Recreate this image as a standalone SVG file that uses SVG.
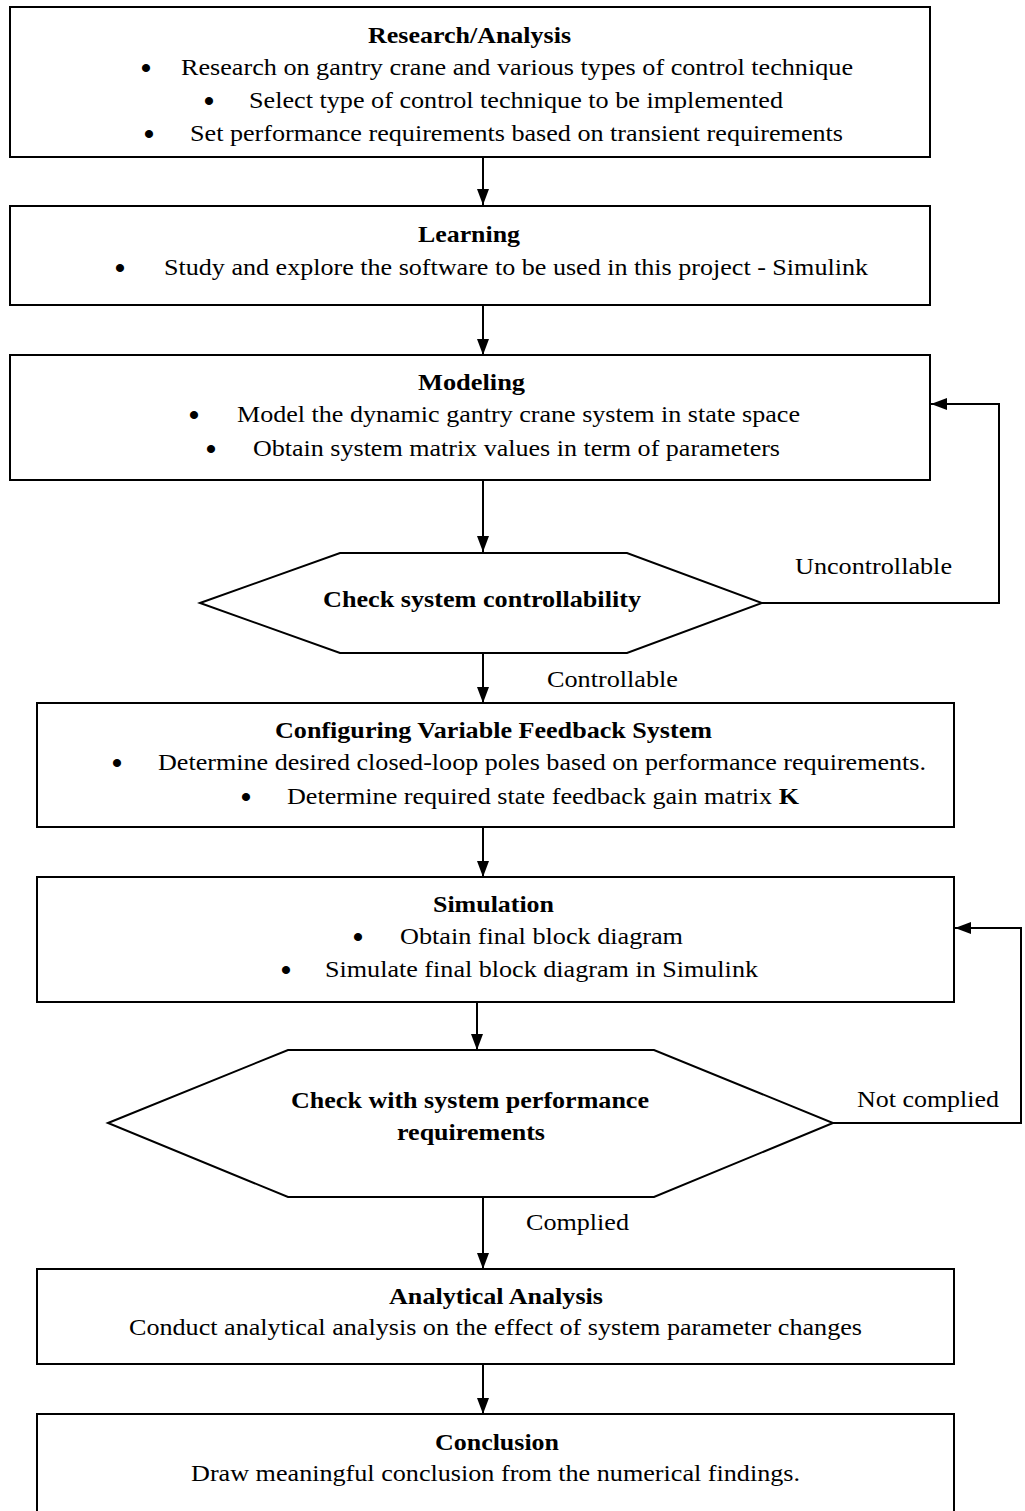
<svg xmlns="http://www.w3.org/2000/svg" width="1025" height="1511" viewBox="0 0 1025 1511">
<defs>
<marker id="ah" markerWidth="16" markerHeight="12" refX="16" refY="6" viewBox="0 0 16 12" orient="auto" markerUnits="userSpaceOnUse" >
<path d="M0,0 L16,6 L0,12 Z" fill="#000"/>
</marker>
<style>
.box{fill:#fff;stroke:#000;stroke-width:2}
.ln{fill:none;stroke:#000;stroke-width:2}
text{font-family:"Liberation Serif","Times New Roman",serif;font-size:24px;fill:#000}
.t{font-weight:bold}
.c{text-anchor:middle}
.b{text-anchor:middle;font-size:30px;font-weight:bold}
</style>
</defs>
<rect width="1025" height="1511" fill="#fff"/>
<g id="connectors">
<line class="ln" x1="483" y1="157" x2="483" y2="205" marker-end="url(#ah)"/>
<line class="ln" x1="483" y1="305" x2="483" y2="355" marker-end="url(#ah)"/>
<line class="ln" x1="483" y1="480" x2="483" y2="552" marker-end="url(#ah)"/>
<polyline class="ln" points="762,603 999,603 999,404 931,404" marker-end="url(#ah)"/>
<line class="ln" x1="483" y1="653" x2="483" y2="703" marker-end="url(#ah)"/>
<line class="ln" x1="483" y1="827" x2="483" y2="877" marker-end="url(#ah)"/>
<line class="ln" x1="477" y1="1002" x2="477" y2="1050" marker-end="url(#ah)"/>
<polyline class="ln" points="833,1123 1021,1123 1021,928 955,928" marker-end="url(#ah)"/>
<line class="ln" x1="483" y1="1197" x2="483" y2="1269" marker-end="url(#ah)"/>
<line class="ln" x1="483" y1="1364" x2="483" y2="1414" marker-end="url(#ah)"/>
<text x="795" y="574" textLength="157" lengthAdjust="spacingAndGlyphs">Uncontrollable</text>
<text x="547" y="687" textLength="131" lengthAdjust="spacingAndGlyphs">Controllable</text>
<text x="857" y="1107" textLength="142" lengthAdjust="spacingAndGlyphs">Not complied</text>
<text x="526" y="1230" textLength="103" lengthAdjust="spacingAndGlyphs">Complied</text>
</g>
<g id="research">
<rect class="box" x="10" y="7" width="920" height="150"/>
<text class="t" x="368" y="43" textLength="203" lengthAdjust="spacingAndGlyphs">Research/Analysis</text>
<text class="b" x="146" y="78">•</text>
<text x="181" y="75" textLength="672" lengthAdjust="spacingAndGlyphs">Research on gantry crane and various types of control technique</text>
<text class="b" x="209" y="111">•</text>
<text x="249" y="108" textLength="534" lengthAdjust="spacingAndGlyphs">Select type of control technique to be implemented</text>
<text class="b" x="149" y="144">•</text>
<text x="190" y="141" textLength="653" lengthAdjust="spacingAndGlyphs">Set performance requirements based on transient requirements</text>
</g>
<g id="learning">
<rect class="box" x="10" y="206" width="920" height="99"/>
<text class="t" x="418" y="242" textLength="102" lengthAdjust="spacingAndGlyphs">Learning</text>
<text class="b" x="120" y="278">•</text>
<text x="164" y="275" textLength="704" lengthAdjust="spacingAndGlyphs">Study and explore the software to be used in this project - Simulink</text>
</g>
<g id="modeling">
<rect class="box" x="10" y="355" width="920" height="125"/>
<text class="t" x="418" y="390" textLength="107" lengthAdjust="spacingAndGlyphs">Modeling</text>
<text class="b" x="194" y="425">•</text>
<text x="237" y="422" textLength="563" lengthAdjust="spacingAndGlyphs">Model the dynamic gantry crane system in state space</text>
<text class="b" x="211" y="459">•</text>
<text x="253" y="456" textLength="527" lengthAdjust="spacingAndGlyphs">Obtain system matrix values in term of parameters</text>
</g>
<g id="check-controllability">
<polygon class="box" points="200,603 340,553 627,553 762,603 627,653 340,653"/>
<text class="t" x="323" y="607" textLength="318" lengthAdjust="spacingAndGlyphs">Check system controllability</text>
</g>
<g id="configuring">
<rect class="box" x="37" y="703" width="917" height="124"/>
<text class="t" x="275" y="738" textLength="437" lengthAdjust="spacingAndGlyphs">Configuring Variable Feedback System</text>
<text class="b" x="117" y="773">•</text>
<text x="158" y="770" textLength="768" lengthAdjust="spacingAndGlyphs">Determine desired closed-loop poles based on performance requirements.</text>
<text class="b" x="246" y="807">•</text>
<text x="287" y="804" textLength="512" lengthAdjust="spacingAndGlyphs">Determine required state feedback gain matrix <tspan class="t">K</tspan></text>
</g>
<g id="simulation">
<rect class="box" x="37" y="877" width="917" height="125"/>
<text class="t" x="433" y="912" textLength="121" lengthAdjust="spacingAndGlyphs">Simulation</text>
<text class="b" x="358" y="947">•</text>
<text x="400" y="944" textLength="283" lengthAdjust="spacingAndGlyphs">Obtain final block diagram</text>
<text class="b" x="286" y="980">•</text>
<text x="325" y="977" textLength="433" lengthAdjust="spacingAndGlyphs">Simulate final block diagram in Simulink</text>
</g>
<g id="check-performance">
<polygon class="box" points="108,1123 288,1050 654,1050 833,1123 654,1197 288,1197"/>
<text class="t" x="291" y="1108" textLength="358" lengthAdjust="spacingAndGlyphs">Check with system performance</text>
<text class="t" x="397" y="1140" textLength="148" lengthAdjust="spacingAndGlyphs">requirements</text>
</g>
<g id="analytical">
<rect class="box" x="37" y="1269" width="917" height="95"/>
<text class="t" x="389" y="1304" textLength="214" lengthAdjust="spacingAndGlyphs">Analytical Analysis</text>
<text x="129" y="1335" textLength="733" lengthAdjust="spacingAndGlyphs">Conduct analytical analysis on the effect of system parameter changes</text>
</g>
<g id="conclusion">
<rect class="box" x="37" y="1414" width="917" height="120"/>
<text class="t" x="435" y="1450" textLength="124" lengthAdjust="spacingAndGlyphs">Conclusion</text>
<text x="191" y="1481" textLength="609" lengthAdjust="spacingAndGlyphs">Draw meaningful conclusion from the numerical findings.</text>
</g>
</svg>
